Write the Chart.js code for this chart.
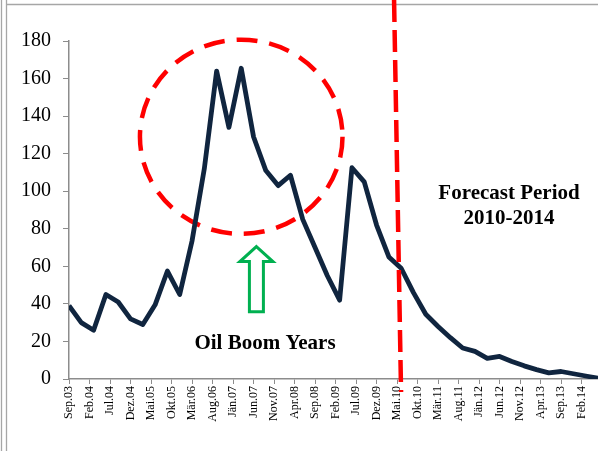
<!DOCTYPE html>
<html>
<head>
<meta charset="utf-8">
<script src="https://cdn.jsdelivr.net/npm/chart.js@4/dist/chart.umd.min.js"></script>
<style>
  html, body { margin: 0; padding: 0; background: #ffffff; }
  canvas { display: block; }
</style>
</head>
<body>
<canvas id="chart" width="598" height="451"></canvas>
<script>
// Axis labels, one every five months starting Sep.03
const tickLabels = [
  'Sep.03', 'Feb.04', 'Jul.04', 'Dez.04', 'Mai.05', 'Okt.05', 'Mär.06', 'Aug.06',
  'Jän.07', 'Jun.07', 'Nov.07', 'Apr.08', 'Sep.08', 'Feb.09', 'Jul.09', 'Dez.09',
  'Mai.10', 'Okt.10', 'Mär.11', 'Aug.11', 'Jän.12', 'Jun.12', 'Nov.12', 'Apr.13',
  'Sep.13', 'Feb.14'
];

// Quarterly readings from Sep.03 onwards (history, then the 2010-2014 forecast)
const priceIndex = [
  39, 30, 26, 45, 41, 32, 29, 39.5, 57.5, 45,
  73.5, 112, 164, 134, 165.5, 129, 111, 103, 108.5, 85,
  70, 55, 42, 112.5, 105, 82, 65, 59, 46, 34.5,
  28, 22, 16.5, 14.7, 11, 12, 9.3, 7, 5, 3.3,
  4, 2.8, 1.6, 0.5
];

const MONTHS_PER_READING = 3;
const MONTHS_PER_LABEL = 5;
const FORECAST_START_MONTH = 80;   // Mai.10

const points = priceIndex.map((v, i) => ({ x: i * MONTHS_PER_READING, y: v }));

const SERIF = 'Liberation Serif';
const AXIS_GREY = '#8c8c8c';

Chart.defaults.font.family = SERIF;

const annotations = {
  id: 'annotations',
  beforeDraw(chart) {
    const ctx = chart.ctx;
    ctx.save();
    ctx.strokeStyle = '#a6a6a6';
    ctx.lineWidth = 1.3;
    ctx.beginPath();
    ctx.moveTo(1.5, 0); ctx.lineTo(1.5, chart.height);
    ctx.moveTo(6.5, 0); ctx.lineTo(6.5, chart.height);
    ctx.moveTo(6.5, 4.5); ctx.lineTo(chart.width, 4.5);
    ctx.stroke();
    ctx.restore();
  },
  beforeDatasetsDraw(chart) {
    // dashed ellipse around the boom peak
    const { ctx, scales: { x, y } } = chart;
    const cx = x.getPixelForValue(42), cy = y.getPixelForValue(129);
    const rx = x.getPixelForValue(42 + 24.7) - cx;
    const ry = cy - y.getPixelForValue(129 + 51.7);
    ctx.save();
    ctx.strokeStyle = '#ff0000';
    ctx.lineWidth = 4.5;
    ctx.setLineDash([21, 12]);
    ctx.beginPath();
    ctx.ellipse(cx, cy, rx, ry, 0, 0, Math.PI * 2);
    ctx.stroke();
    ctx.restore();
  },
  afterDraw(chart) {
    const { ctx, scales: { x, y } } = chart;
    ctx.save();

    // forecast divider
    const xv = x.getPixelForValue(FORECAST_START_MONTH);
    ctx.strokeStyle = '#ff0000';
    ctx.lineWidth = 4.5;
    ctx.setLineDash([22, 8]);
    ctx.beginPath();
    ctx.moveTo(xv - 3, 0);
    ctx.lineTo(xv + 4, 392);
    ctx.stroke();
    ctx.setLineDash([]);

    // hollow green arrow
    const ax = x.getPixelForValue(45.7);
    const tip = y.getPixelForValue(70.5);
    const bottom = y.getPixelForValue(35.8);
    const headH = 15, headW = 16.5, shaftW = 7;
    ctx.strokeStyle = '#00b050';
    ctx.fillStyle = '#ffffff';
    ctx.lineWidth = 3;
    ctx.lineJoin = 'miter';
    ctx.beginPath();
    ctx.moveTo(ax, tip);
    ctx.lineTo(ax + headW, tip + headH);
    ctx.lineTo(ax + shaftW, tip + headH);
    ctx.lineTo(ax + shaftW, bottom);
    ctx.lineTo(ax - shaftW, bottom);
    ctx.lineTo(ax - shaftW, tip + headH);
    ctx.lineTo(ax - headW, tip + headH);
    ctx.closePath();
    ctx.fill();
    ctx.stroke();

    // captions
    ctx.fillStyle = '#000000';
    ctx.font = 'bold 21px "Liberation Serif", serif';
    ctx.textAlign = 'center';
    ctx.textBaseline = 'middle';
    ctx.fillText('Oil Boom Years', x.getPixelForValue(47.8), y.getPixelForValue(19.1));
    const fx = x.getPixelForValue(107.3);
    ctx.fillText('Forecast Period', fx, y.getPixelForValue(99));
    ctx.fillText('2010-2014', fx, y.getPixelForValue(85.6));
    ctx.restore();
  }
};

new Chart(document.getElementById('chart'), {
  type: 'line',
  data: {
    datasets: [{
      data: points,
      borderColor: '#10253f',
      borderWidth: 4.8,
      pointRadius: 0,
      tension: 0,
      borderJoinStyle: 'round',
      borderCapStyle: 'butt',
      fill: false
    }]
  },
  options: {
    responsive: false,
    animation: false,
    devicePixelRatio: 1,
    layout: { padding: { top: 41, right: 0, bottom: 0, left: 0 } },
    plugins: {
      legend: { display: false },
      tooltip: { enabled: false }
    },
    scales: {
      x: {
        type: 'linear',
        min: 0,
        max: (priceIndex.length - 1) * MONTHS_PER_READING,
        grid: { drawOnChartArea: false, drawTicks: true, tickLength: 5, color: AXIS_GREY, lineWidth: 1 },
        border: { color: AXIS_GREY, width: 1.5 },
        ticks: {
          stepSize: MONTHS_PER_LABEL,
          includeBounds: false,
          autoSkip: false,
          minRotation: 90,
          maxRotation: 90,
          padding: 2,
          color: '#000000',
          font: { family: SERIF, size: 12 },
          callback: (v) => (v % MONTHS_PER_LABEL === 0 ? (tickLabels[v / MONTHS_PER_LABEL] || '') : '')
        },
        afterFit(scale) {
          scale.height = 72;
          scale.paddingLeft = 0;
          scale.paddingRight = 0;
        }
      },
      y: {
        min: 0,
        max: 180,
        grid: { drawOnChartArea: false, drawTicks: true, tickLength: 6, color: AXIS_GREY, lineWidth: 1 },
        border: { color: AXIS_GREY, width: 1.5 },
        ticks: {
          stepSize: 20,
          padding: 12,
          color: '#000000',
          font: { family: SERIF, size: 20 }
        },
        afterFit(scale) {
          scale.width = 69;
        }
      }
    }
  },
  plugins: [annotations]
});
</script>
</body>
</html>
